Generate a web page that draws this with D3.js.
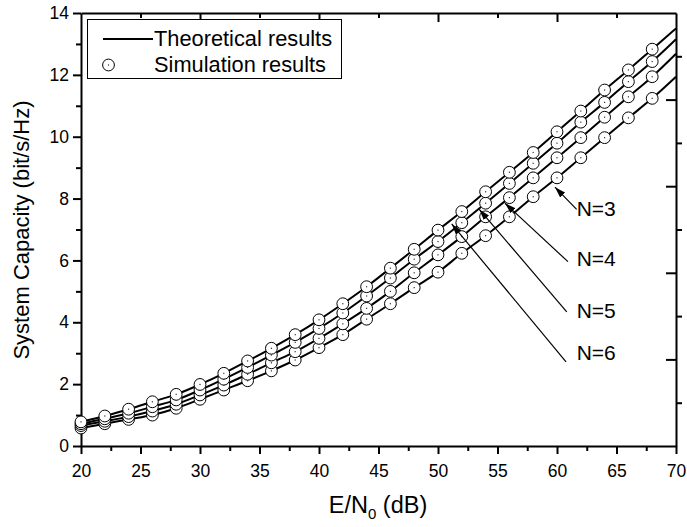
<!DOCTYPE html>
<html>
<head>
<meta charset="utf-8">
<script src="https://cdn.jsdelivr.net/npm/d3@7/dist/d3.min.js"></script>
<style>
  body { margin: 0; background: #fff; }
  text { font-family: Arial, "Liberation Sans", sans-serif; fill: #000; }
</style>
</head>
<body>
<script>
// E/N0 (dB) where the simulation points sit
var snr = [20,22,24,26,28,30,32,34,36,38,40,42,44,46,48,50,52,54,56,58,60,62,64,66,68];

// simulation results, one list per N
var simN3 = [0.58,0.72,0.86,1.00,1.22,1.51,1.81,2.11,2.43,2.78,3.18,3.60,4.10,4.60,5.12,5.62,6.23,6.80,7.41,8.06,8.67,9.32,9.97,10.61,11.24];
var simN4 = [0.66,0.80,0.95,1.13,1.35,1.65,1.97,2.32,2.69,3.05,3.48,3.95,4.45,5.00,5.60,6.18,6.77,7.41,8.03,8.67,9.32,9.97,10.63,11.29,11.94];
var simN5 = [0.72,0.88,1.06,1.27,1.49,1.81,2.16,2.54,2.94,3.35,3.80,4.30,4.85,5.43,6.04,6.61,7.22,7.85,8.49,9.14,9.79,10.47,11.11,11.78,12.43];
var simN6 = [0.78,0.97,1.19,1.43,1.67,1.99,2.35,2.75,3.16,3.60,4.08,4.60,5.15,5.75,6.36,6.98,7.58,8.22,8.85,9.49,10.16,10.83,11.51,12.16,12.83];

// theoretical curves run on to 70 dB
var snrTheo = [20,22,24,26,28,30,32,34,36,38,40,42,44,46,48,50,52,54,56,58,60,62,64,66,68,70];
var theoN3 = [0.58,0.72,0.86,1.00,1.22,1.51,1.81,2.11,2.43,2.78,3.18,3.60,4.10,4.60,5.12,5.62,6.23,6.80,7.41,8.06,8.67,9.32,9.97,10.61,11.24,11.94];
var theoN4 = [0.66,0.80,0.95,1.13,1.35,1.65,1.97,2.32,2.69,3.05,3.48,3.95,4.45,5.00,5.60,6.18,6.77,7.41,8.03,8.67,9.32,9.97,10.63,11.29,11.94,12.68];
var theoN5 = [0.72,0.88,1.06,1.27,1.49,1.81,2.16,2.54,2.94,3.35,3.80,4.30,4.85,5.43,6.04,6.61,7.22,7.85,8.49,9.14,9.79,10.47,11.11,11.78,12.43,13.15];
var theoN6 = [0.78,0.97,1.19,1.43,1.67,1.99,2.35,2.75,3.16,3.60,4.08,4.60,5.15,5.75,6.36,6.98,7.58,8.22,8.85,9.49,10.16,10.83,11.51,12.16,12.83,13.50];

var xTicks = [20,25,30,35,40,45,50,55,60,65,70];
var yTicks = [0,2,4,6,8,10,12,14];

// N labels: arrow tip (on curve), arrow tail and label spot, in data units
var annLabels = ["N=3","N=4","N=5","N=6"];
var annTip  = [[59.83,8.37],[55.63,7.85],[53.47,7.65],[51.15,7.18]];
var annTail = [[61.65,7.65],[60.92,5.96],[60.82,4.34],[60.76,2.72]];
var annText = [[61.65,7.45],[61.65,5.82],[61.65,4.15],[61.65,2.78]];

window.onload = function(){
  var width = 687, height = 527;
  var left = 81, right = 676, top = 13, bottom = 446;

  var svg = d3.select("body").append("svg")
      .attr("width", width)
      .attr("height", height);

  svg.append("defs").append("marker")
      .attr("id", "arrow")
      .attr("viewBox", "0 0 11 7")
      .attr("refX", 11)
      .attr("refY", 3.5)
      .attr("markerWidth", 11)
      .attr("markerHeight", 7)
      .attr("markerUnits", "userSpaceOnUse")
      .attr("orient", "auto")
      .append("path")
      .attr("d", "M0,0 L11,3.5 L0,7 Z")
      .style("fill", "#000");

  var x = d3.scaleLinear().domain([20,70]).range([left,right]);
  var y = d3.scaleLinear().domain([0,14]).range([bottom,top]);

  // bottom axis: labelled ticks every 5, minor every 2.5
  var xMinor = d3.range(22.5, 70, 5);
  svg.append("g")
      .attr("transform", "translate(0," + bottom + ")")
      .call(d3.axisBottom(x).tickValues(xMinor).tickSize(5).tickFormat(""))
      .call(function(g){ g.select(".domain").remove(); });
  var gx = svg.append("g")
      .attr("transform", "translate(0," + bottom + ")")
      .call(d3.axisBottom(x).tickValues(xTicks).tickSize(8).tickSizeOuter(0).tickPadding(11));
  gx.selectAll("text").style("font-size", "17.5px");

  // left axis: labelled ticks every 2, minor every 1
  svg.append("g")
      .attr("transform", "translate(" + left + ",0)")
      .call(d3.axisLeft(y).tickValues(d3.range(1,14,2)).tickSize(5).tickFormat(""))
      .call(function(g){ g.select(".domain").remove(); });
  var gy = svg.append("g")
      .attr("transform", "translate(" + left + ",0)")
      .call(d3.axisLeft(y).tickValues(yTicks).tickSize(8).tickSizeOuter(0).tickPadding(4));
  gy.selectAll("text").style("font-size", "17.5px");

  // top axis, inward ticks
  svg.append("g")
      .attr("transform", "translate(0," + top + ")")
      .call(d3.axisBottom(x).tickValues([25,35,45,55,65]).tickSize(5).tickFormat(""))
      .call(function(g){ g.select(".domain").remove(); });
  svg.append("g")
      .attr("transform", "translate(0," + top + ")")
      .call(d3.axisBottom(x).tickValues([30,40,50,60]).tickSize(9).tickSizeOuter(0).tickFormat(""));

  // right axis, inward ticks on ten equal steps
  var yRight = d3.scaleLinear().domain([0,10]).range([bottom,top]);
  svg.append("g")
      .attr("transform", "translate(" + right + ",0)")
      .call(d3.axisLeft(yRight).tickValues([1,3,5,7,9]).tickSize(-6).tickFormat(""))
      .call(function(g){ g.select(".domain").remove(); });
  svg.append("g")
      .attr("transform", "translate(" + right + ",0)")
      .call(d3.axisRight(yRight).tickValues([2,4,6,8]).tickSize(-10).tickSizeOuter(0).tickFormat(""));

  svg.selectAll(".domain, .tick line")
      .attr("stroke", "#000")
      .attr("stroke-width", 2);

  // axis titles
  var xTitle = svg.append("text")
      .attr("x", 378)
      .attr("y", 513)
      .attr("text-anchor", "middle")
      .style("font-size", "23.5px");
  xTitle.append("tspan").text("E/N");
  xTitle.append("tspan").attr("dy", 6).style("font-size", "15px").text("0");
  xTitle.append("tspan").attr("dy", -6).text(" (dB)");

  svg.append("text")
      .attr("transform", "translate(29,230) rotate(-90)")
      .attr("text-anchor", "middle")
      .style("font-size", "22px")
      .text("System Capacity (bit/s/Hz)");

  var line = d3.line()
      .x(function(d){ return x(d[0]); })
      .y(function(d){ return y(d[1]); })
      .curve(d3.curveMonotoneX);

  var theo = [theoN3, theoN4, theoN5, theoN6];
  var sim = [simN3, simN4, simN5, simN6];

  for (var i = 0; i < theo.length; i++) {
    var pts = snrTheo.map(function(s, k){ return [s, theo[i][k]]; });
    svg.append("path")
        .attr("d", line(pts))
        .attr("fill", "none")
        .attr("stroke", "#000")
        .attr("stroke-width", 2);
  }

  for (var i = 0; i < sim.length; i++) {
    var sp = snr.map(function(s, k){ return [s, sim[i][k]]; });
    var g = svg.append("g");
    g.selectAll("circle")
        .data(sp)
        .enter()
        .append("circle")
        .attr("cx", function(d){ return x(d[0]); })
        .attr("cy", function(d){ return y(d[1]); })
        .attr("r", 5.9)
        .attr("fill", "#fff")
        .attr("stroke", "#000")
        .attr("stroke-width", 1);
    g.selectAll("rect")
        .data(sp)
        .enter()
        .append("rect")
        .attr("x", function(d){ return x(d[0]) - 0.6; })
        .attr("y", function(d){ return y(d[1]) - 0.6; })
        .attr("width", 1.2)
        .attr("height", 1.2)
        .attr("fill", "#333");
  }

  // N=3..6 annotations
  for (var i = 0; i < annLabels.length; i++) {
    svg.append("line")
        .attr("x1", x(annTail[i][0]))
        .attr("y1", y(annTail[i][1]))
        .attr("x2", x(annTip[i][0]))
        .attr("y2", y(annTip[i][1]))
        .attr("stroke", "#000")
        .attr("stroke-width", 1.2)
        .attr("marker-end", "url(#arrow)");
    svg.append("text")
        .attr("x", x(annText[i][0]))
        .attr("y", y(annText[i][1]))
        .style("font-size", "21px")
        .text(annLabels[i]);
  }

  // legend
  var lg = svg.append("g");
  lg.append("rect")
      .attr("x", 87.5).attr("y", 19.5)
      .attr("width", 254).attr("height", 59)
      .attr("fill", "#fff")
      .attr("stroke", "#000")
      .attr("stroke-width", 1);
  lg.append("line")
      .attr("x1", 103).attr("x2", 153)
      .attr("y1", 39).attr("y2", 39)
      .attr("stroke", "#000")
      .attr("stroke-width", 2);
  lg.append("text")
      .attr("x", 154).attr("y", 46)
      .style("font-size", "21.8px")
      .text("Theoretical results");
  lg.append("circle")
      .attr("cx", 108.5).attr("cy", 65)
      .attr("r", 5.9)
      .attr("fill", "#fff")
      .attr("stroke", "#000")
      .attr("stroke-width", 1);
  lg.append("rect")
      .attr("x", 107.9).attr("y", 64.4)
      .attr("width", 1.2).attr("height", 1.2)
      .attr("fill", "#333");
  lg.append("text")
      .attr("x", 154).attr("y", 72)
      .style("font-size", "21.8px")
      .text("Simulation results");
}
</script>
</body>
</html>
